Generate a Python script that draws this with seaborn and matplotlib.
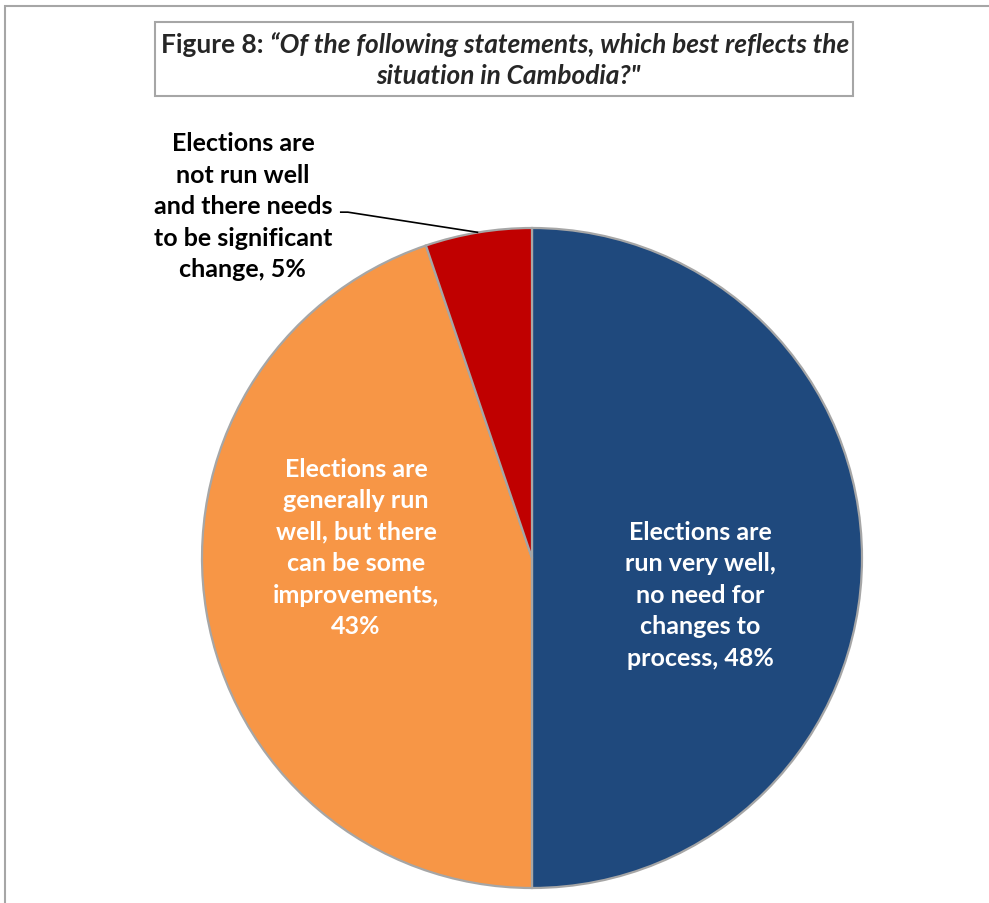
import matplotlib
matplotlib.use("Agg")
import matplotlib.pyplot as plt
from matplotlib.patches import Rectangle
import numpy as np
import seaborn as sns

# Survey responses (share of respondents, %)
categories = [
    "Elections are run very well, no need for changes to process",
    "Elections are generally run well, but there can be some improvements",
    "Elections are not run well and there needs to be significant change",
]
values = [48, 43, 5]
label_texts = [
    "Elections are\nrun very well,\nno need for\nchanges to\nprocess, 48%",
    "Elections are\ngenerally run\nwell, but there\ncan be some\nimprovements,\n43%",
    "Elections are\nnot run well\nand there needs\nto be significant\nchange, 5%",
]
colors = ["#1F497D", "#F79646", "#C00000"]
title_lead = "Figure 8: "
title_q1 = "\u201cOf the following statements, which best reflects the"
title_q2 = "situation in Cambodia?\""

sns.set_theme(style="white")
plt.rcParams["font.family"] = ["Lato", "DejaVu Sans"]
palette = sns.color_palette(colors)

W, H = 989, 904
fig = plt.figure(figsize=(W / 100, H / 100), dpi=100)
fig.patch.set_facecolor("white")

# outer chart frame
fig.add_artist(Rectangle((5 / W, -0.05), 1.2, 1 - 7 / H + 0.05, transform=fig.transFigure,
                         fill=False, edgecolor="#A6A6A6", linewidth=1.5))

# pie axes: centre (532, 559) px, radius 330 px
cx, cy, r = 532, 559, 330
ax = fig.add_axes([(cx - r) / W, 1 - (cy + r) / H, 2 * r / W, 2 * r / H])
wedges, _ = ax.pie(values, colors=palette, startangle=90, counterclock=False,
                   radius=1, wedgeprops=dict(edgecolor="#A6A6A6", linewidth=1.6))
ax.set_xlim(-1, 1)
ax.set_ylim(-1, 1)
ax.set_aspect("auto")
ax.axis("off")

fs = 18
ls = 1.45
ax.text(0.51, -0.11, label_texts[0], ha="center", va="center", color="white",
        fontsize=fs, fontweight="bold", linespacing=ls)
ax.text(-0.533, 0.033, label_texts[1], ha="center", va="center", color="white",
        fontsize=fs, fontweight="bold", linespacing=ls)
ax.text(-0.876, 1.067, label_texts[2], ha="center", va="center", color="black",
        fontsize=fs, fontweight="bold", linespacing=ls, clip_on=False)

# leader line to the small slice, ending at the wedge's mid-angle on the rim
w = wedges[2]
mid = np.deg2rad((w.theta1 + w.theta2) / 2)
ex, ey = np.cos(mid), np.sin(mid)
ax.plot([-0.582, -0.558, ex], [1.048, 1.048, ey], color="black", lw=1.2,
        clip_on=False, solid_capstyle="butt")

# title box
fig.add_artist(Rectangle((155 / W, 1 - 97 / H), (853 - 155) / W, (97 - 23) / H,
                         transform=fig.transFigure, fill=False,
                         edgecolor="#A6A6A6", linewidth=1.5))
tfs = 18.9
fig.canvas.draw()
renderer = fig.canvas.get_renderer()
t1 = fig.text(0, 1 - 45 / H, title_lead, fontsize=tfs, fontweight="bold", va="center")
t2 = fig.text(0, 1 - 45 / H, title_q1, fontsize=tfs, fontweight="bold",
              style="italic", va="center")
w1 = t1.get_window_extent(renderer).width
w2 = t2.get_window_extent(renderer).width
x0 = 505 - (w1 + w2) / 2
t1.set_x(x0 / W)
t2.set_x((x0 + w1) / W)
fig.text(508 / W, 1 - 76 / H, title_q2, fontsize=tfs, fontweight="bold",
         style="italic", ha="center", va="center")

fig.savefig("out.png", dpi=100)
